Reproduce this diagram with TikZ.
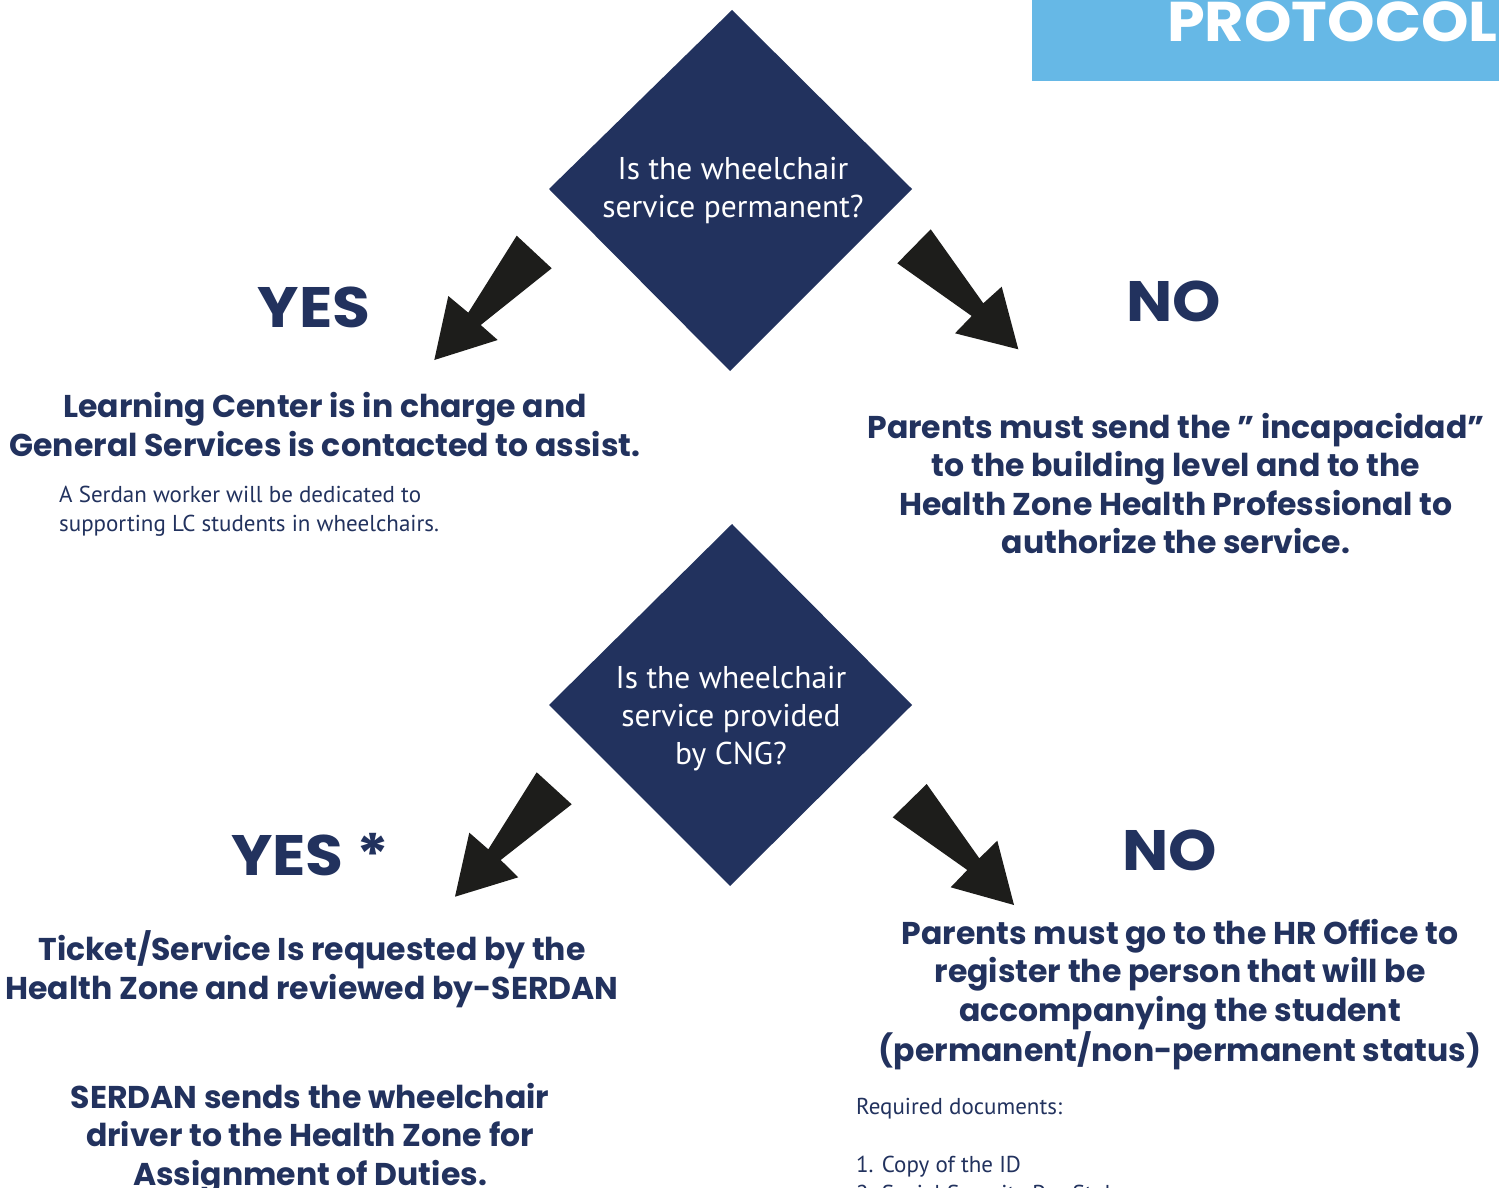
\documentclass[tikz,border=0pt]{standalone}
\usepackage{fontspec}
\setmainfont{PT Sans}
\newfontfamily\hd{Poppins}
\newfontfamily\hdwide[FakeStretch=1.08]{Poppins}
\usetikzlibrary{shapes.geometric}
\definecolor{navy}{HTML}{22325E}
\definecolor{sky}{HTML}{66B8E6}
\definecolor{arrowblack}{HTML}{1D1D1B}
\tikzset{
  decision/.style={fill=navy, draw=none},
  qtext/.style={text=white, align=center, inner sep=0pt, anchor=base, font=\fontsize{31.5}{38}\selectfont},
  answer/.style={text=navy, inner sep=0pt, anchor=base, font=\hdwide\bfseries\fontsize{57}{60}\selectfont},
  heading/.style={text=navy, align=center, inner sep=0pt, anchor=base, font=\hd\bfseries\fontsize{31.5}{38.5}\selectfont},
  note/.style={text=navy, align=left, inner sep=0pt, anchor=base west, font=\fontsize{23}{28.7}\selectfont},
  fatarrow/.style={fill=arrowblack, draw=none},
}
\begin{document}
\begin{tikzpicture}[x=1pt,y=-1pt]
\useasboundingbox (0,0) rectangle (1499,1188);
\clip (0,0) rectangle (1499,1188);
\fill[white] (0,0) rectangle (1499,1188);

% banner
\fill[sky] (1032,0) rectangle (1499,81);
\node[anchor=base west, inner sep=0pt, text=white, font=\hdwide\bfseries\fontsize{56}{60}\selectfont] (title) at (1167,42) {PROTOCOL};

% decisions
\fill[decision] (732,10) -- (912,189) -- (730,371) -- (549,189) -- cycle;
\node[qtext] (q1) at (733,217) {Is the wheelchair\\service permanent?};
\fill[decision] (732,524) -- (912,705) -- (730,886) -- (549,705) -- cycle;
\node[qtext] (q2) at (731,764) {Is the wheelchair\\service provided\\by CNG?};

% arrows
\fill[fatarrow] (516.7,235.7) -- (551.7,268.3) -- (480.7,325) -- (497.7,340) -- (434.3,360) -- (448.3,296) -- (468.3,312.7) -- cycle;
\fill[fatarrow] (930.7,229.3) -- (897.3,263.3) -- (971.7,316) -- (955,333.3) -- (1018.3,349.3) -- (1001.7,286.7) -- (983.3,303.3) -- cycle;
\fill[fatarrow] (536.7,772.3) -- (571.7,804.3) -- (500.7,860) -- (518.3,877.3) -- (455,896.7) -- (469.3,832.7) -- (488.3,849.3) -- cycle;
\fill[fatarrow] (926.7,784) -- (892.7,817.3) -- (967.3,870) -- (950.7,887.3) -- (1014,905) -- (997.3,840.7) -- (979.3,858.3) -- cycle;

% answers
\node[answer] (yes1) at (314,327) {YES};
\node[answer] (no1) at (1174,321) {NO};
\node[answer, anchor=base west] (yes2) at (231,875) {YES *};
\node[answer] (no2) at (1170,870) {NO};

% outcomes
\node[heading] (lc) at (325,456) {Learning Center is in charge and\\General Services is contacted to assist.};
\node[note] (lcnote) at (59,531) {A Serdan worker will be dedicated to\\supporting LC students in wheelchairs.};
\node[heading] (par1) at (1176,553.5) {Parents must send the ” incapacidad”\\to the building level and to the\\Health Zone Health Professional to\\authorize the service.};
\node[heading] (ticket) at (312,999) {Ticket/Service Is requested by the\\Health Zone and reviewed by-SERDAN};
\node[heading] (serdan) at (310,1185) {SERDAN sends the wheelchair\\driver to the Health Zone for\\Assignment of Duties.};
\node[heading] (par2) at (1180,1061) {Parents must go to the HR Office to\\register the person that will be\\accompanying the student\\(permanent/non-permanent status)};
\node[note] (docs) at (856,1201) {Required documents:\\\mbox{}\\1. Copy of the ID\\2. Social Security Pay Stub};
\end{tikzpicture}
\end{document}
